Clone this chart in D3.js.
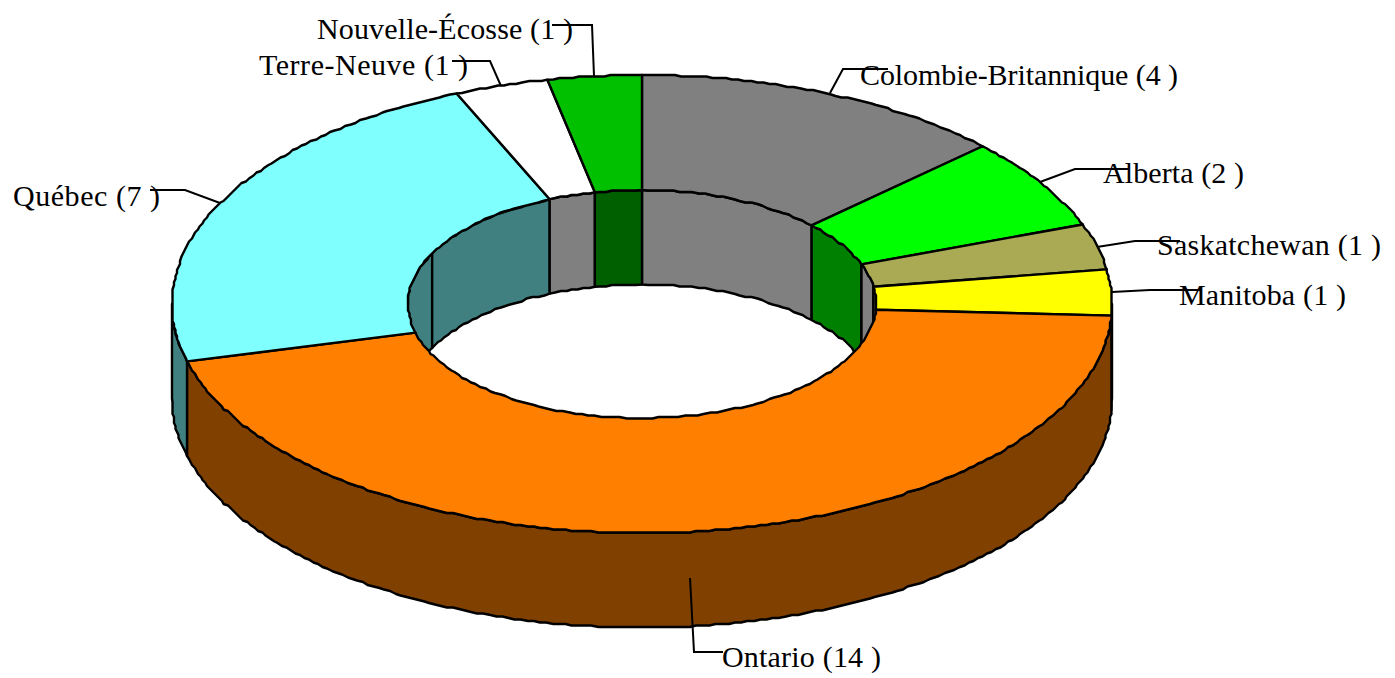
<!DOCTYPE html>
<html><head><meta charset="utf-8">
<script src="https://cdnjs.cloudflare.com/ajax/libs/d3/7.8.5/d3.min.js"></script>
<style>html,body{margin:0;padding:0;background:#fff}svg{display:block}text{font-family:"Liberation Serif",serif;font-size:30px;fill:#000}</style>
</head><body><svg id="c" width="1395" height="678"></svg>
<script>
const provinces = ["Colombie-Britannique","Alberta","Saskatchewan","Manitoba","Ontario","Québec","Terre-Neuve","Nouvelle-Écosse"];
const counts = [4,2,1,1,14,7,1,1];
const topColors = ["#808080","#00ff00","#aaaa55","#ffff00","#ff8000","#80ffff","#ffffff","#00c000"];
const wallColors = ["#808080","#008000","#808080","#808080","#804000","#408080","#808080","#006000"];
const labelX = [860,1103,1157,1179,722,13,259,317];
const labelY = [85,183,255,305,667,206,75,39];
const labelW = [318,141,224,167,159,147,209,256];
const leaders = [
 [[830,93],[843,69],[888,69]],
 [[1040,182],[1075,169],[1128,169]],
 [[1097,247],[1135,241],[1180,241]],
 [[1112,292],[1150,290],[1200,290]],
 [[690,578],[694,652],[723,652]],
 [[220,203],[185,190],[150,190]],
 [[501,86],[490,61],[452,61]],
 [[594,76],[592,25],[552,25]]
];
const quebecWallBreak = 296.3*Math.PI/180;

const svg = d3.select("#c");
const x = d3.scaleLinear().domain([-1,1]).range([172,1112]);
const y = d3.scaleLinear().domain([-1,1]).range([75,533]);
const innerR = 0.498, depth = 94.5, grid = 1.5;
const pie = d3.pie().sort(null).value(d=>d).startAngle(0).endAngle(2*Math.PI);
const arcs = pie(counts);
const snap = v => Math.round(v/grid)*grid;
const raw = (a,r,dy) => [x(r*Math.sin(a)), y(-r*Math.cos(a))+dy];
function ring(a0,a1,r,dy=0){
  // outline on a coarse pixel lattice; only the slice ends stay exact
  const step = (r<0.7?1.6:0.8)*Math.PI/180;
  const n = Math.max(1,Math.ceil(Math.abs(a1-a0)/step));
  return d3.range(n+1).map(i=>{
    const p = raw(a0+(a1-a0)*i/n,r,dy);
    return (i===0||i===n) ? p : p.map(snap);
  });
}
const line = d3.line();
const closed = pts => line(pts)+"Z";
const styled = sel => sel.attr("stroke","#000").attr("stroke-width",2.4).attr("stroke-linejoin","round");

svg.append("clipPath").attr("id","hole").append("path").attr("d",closed(ring(0,2*Math.PI,innerR)));

// inner wall pieces, back half of the hole only
const wallG = svg.append("g").attr("clip-path","url(#hole)");
const backA = 1.5*Math.PI, backB = 2.5*Math.PI;
arcs.forEach((d,i)=>{
  const spans = [[d.startAngle,d.endAngle],[d.startAngle+2*Math.PI,d.endAngle+2*Math.PI]];
  spans.forEach(([s,e])=>{
    let a0=Math.max(s,backA), a1=Math.min(e,backB);
    if(a1<=a0) return;
    const parts = (i===5 && a0<quebecWallBreak && a1>quebecWallBreak) ? [[a0,quebecWallBreak],[quebecWallBreak,a1]] : [[a0,a1]];
    parts.forEach(([p,q])=>{
      styled(wallG.append("path")).attr("fill",wallColors[i])
        .attr("d",closed(ring(p,q,innerR).concat(ring(q,p,innerR,depth))));
    });
  });
});

// outer wall, front half
arcs.forEach((d,i)=>{
  const a0=Math.max(d.startAngle,Math.PI/2), a1=Math.min(d.endAngle,1.5*Math.PI);
  if(a1<=a0) return;
  styled(svg.append("path")).attr("fill",wallColors[i])
    .attr("d",closed(ring(a0,a1,1).concat(ring(a1,a0,1,depth))));
});

// top faces
arcs.forEach((d,i)=>{
  styled(svg.append("path")).attr("fill",topColors[i])
    .attr("d",closed(ring(d.startAngle,d.endAngle,1).concat(ring(d.endAngle,d.startAngle,innerR))));
});

// labels and leader lines
provinces.forEach((p,i)=>{
  svg.append("text").attr("x",labelX[i]).attr("y",labelY[i])
    .attr("textLength",labelW[i]).attr("lengthAdjust","spacing").text(`${p} (${counts[i]} )`);
});
leaders.forEach(l=>{
  svg.append("path").attr("d",line(l)).attr("fill","none").attr("stroke","#000").attr("stroke-width",2);
});
</script></body></html>
